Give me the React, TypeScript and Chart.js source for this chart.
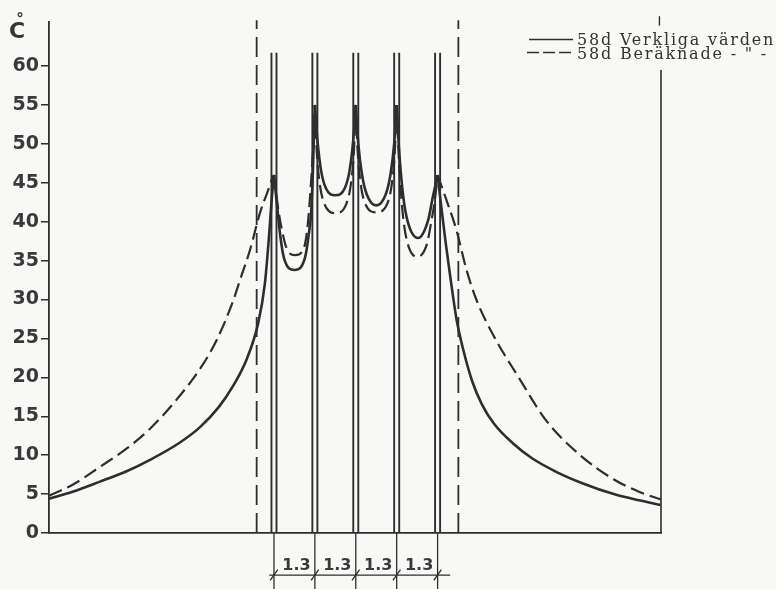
import React, { useEffect, useRef } from "react";
import { Chart, registerables } from "chart.js";

Chart.register(...registerables);

// ---------- data ----------
const yTickValues = [0, 5, 10, 15, 20, 25, 30, 35, 40, 45, 50, 55, 60];
const yMax = 65.66;
const xMin = -7.15;
const xMax = 12.3;

// wall positions (m), spacing 1.3 m
const wallPositions = [0, 1.3, 2.6, 3.9, 5.2];
const wallHalfThickness = 0.08;
const wallTop = 61.7;
const spacingLabels = ["1.3", "1.3", "1.3", "1.3"];
const boundaryLines = [-0.55, 5.86];

// 58d Verkliga värden (measured)
const measuredX = [
  -7.15, -6.4, -5.53, -4.7, -3.94, -3.0, -2.35, -1.75, -1.3, -0.87, -0.5, -0.29, -0.16, -0.06, 0,
  0.1, 0.2, 0.32, 0.65, 0.98, 1.1, 1.2, 1.3,
  1.38, 1.5, 1.65, 1.95, 2.25, 2.4, 2.52, 2.6,
  2.68, 2.8, 2.95, 3.25, 3.55, 3.7, 3.82, 3.9,
  3.98, 4.1, 4.25, 4.58, 4.9, 5.05, 5.2,
  5.3, 5.45, 5.6, 5.8, 6.0, 6.3, 6.6, 7.0, 7.6, 8.2, 9.0, 9.8, 10.8, 11.6, 12.3,
];
const measuredY = [
  4.4, 5.3, 6.6, 7.9, 9.4, 11.6, 13.6, 16.2, 18.9, 22.3, 27.0, 32.0, 38, 43.5, 46,
  42, 38.2, 35.3, 33.8, 35.3, 38.2, 42.5, 55,
  50.5, 46.5, 44.3, 43.4, 44.3, 46.5, 50.5, 55,
  50, 46, 43.5, 42.1, 43.5, 46, 50, 55,
  49, 43.5, 40, 37.9, 40.2, 43.2, 46,
  42.5, 37.5, 33, 27.5, 23.8, 19.5, 16.6, 14.0, 11.5, 9.6, 7.8, 6.4, 5.0, 4.2, 3.6,
];

// 58d Beräknade (calculated)
const calculatedX = [
  -7.15, -6.4, -5.53, -4.7, -3.94, -3.0, -2.3, -1.82, -1.3, -1.08, -0.76, -0.44, -0.19, -0.08, 0,
  0.14, 0.24, 0.4, 0.67, 0.95, 1.07, 1.16, 1.23, 1.3,
  1.36, 1.45, 1.6, 1.95, 2.3, 2.45, 2.54, 2.6,
  2.66, 2.75, 2.9, 3.25, 3.6, 3.75, 3.84, 3.9,
  3.97, 4.07, 4.2, 4.55, 4.85, 5.0, 5.12, 5.2,
  5.48, 5.8, 6.12, 6.43, 7.0, 7.79, 8.66, 9.73, 10.79, 11.6, 12.3,
];
const calculatedY = [
  4.8, 6.2, 8.5, 10.8, 13.4, 17.6, 21.4, 24.8, 29.8, 32.5, 36.4, 41.2, 44.0, 45.3, 46,
  41.5, 39.2, 36.6, 35.7, 36.6, 39.5, 44, 48.5, 55,
  49, 45, 42.3, 41.1, 42.3, 45, 49, 55,
  49, 45, 42.3, 41.2, 42.3, 45, 49, 55,
  48, 42, 38, 35.5, 37, 40, 43, 46,
  42.8, 38.9, 33.8, 30, 25.2, 19.9, 14.4, 10.0, 6.9, 5.3, 4.3,
];

const legendLabels = ["58d Verkliga värden", "58d Beräknade - \" -"];

// ---------- helpers ----------
const INK = "#2e2e2e";

function splitAtWalls(xs: number[], ys: number[]) {
  const segments: { x: number; y: number }[][] = [];
  let cur: { x: number; y: number }[] = [];
  xs.forEach((x, i) => {
    const p = { x, y: ys[i] };
    cur.push(p);
    if (wallPositions.includes(x) && cur.length > 1) {
      segments.push(cur);
      cur = [p];
    }
  });
  if (cur.length > 1) segments.push(cur);
  return segments;
}

function lineDs(data: { x: number; y: number }[], width: number, dash: number[] = [], smooth = false) {
  return {
    type: "line" as const,
    data,
    borderColor: INK,
    borderWidth: width,
    borderDash: dash,
    pointRadius: 0,
    fill: false,
    clip: false as any,
    cubicInterpolationMode: smooth ? ("monotone" as const) : ("default" as const),
    tension: 0,
  };
}

const textPlugin = {
  id: "textPlugin",
  afterDraw(chart: any) {
    const ctx = chart.ctx as CanvasRenderingContext2D;
    const xs = chart.scales.x;
    const ys = chart.scales.y;
    ctx.save();
    ctx.fillStyle = "#333";
    // axis unit
    ctx.font = "bold 22px 'DejaVu Sans'";
    ctx.textAlign = "left";
    ctx.textBaseline = "alphabetic";
    ctx.fillText("C", 9, 38);
    ctx.font = "bold 15px 'DejaVu Sans'";
    ctx.textAlign = "center";
    ctx.fillText("°", 20, 24);

    // spacing labels
    ctx.font = "bold 16px 'DejaVu Sans'";
    ctx.fillStyle = "#3a3a3a";
    ctx.textAlign = "center";
    spacingLabels.forEach((lab, i) => {
      const mid = (wallPositions[i] + wallPositions[i + 1]) / 2;
      ctx.fillText(lab, xs.getPixelForValue(mid) + 2, ys.getPixelForValue(-4.8));
    });

    // legend
    ctx.strokeStyle = INK;
    ctx.lineWidth = 1.6;
    ctx.beginPath();
    ctx.moveTo(529, 39.5);
    ctx.lineTo(573, 39.5);
    ctx.stroke();
    ctx.setLineDash([12, 4]);
    ctx.beginPath();
    ctx.moveTo(527, 52.5);
    ctx.lineTo(575, 52.5);
    ctx.stroke();
    ctx.setLineDash([]);
    ctx.font = "16px 'DejaVu Serif'";
    (ctx as any).letterSpacing = "1.8px";
    ctx.textAlign = "left";
    ctx.fillStyle = "#333";
    ctx.fillText(legendLabels[0], 577, 45);
    ctx.fillText(legendLabels[1], 577, 59);
    ctx.restore();
  },
};

export default function App() {
  const ref = useRef<HTMLCanvasElement | null>(null);
  useEffect(() => {
    if (!ref.current) return;
    const datasets: any[] = [];
    splitAtWalls(measuredX, measuredY).forEach((seg) => datasets.push(lineDs(seg, 2.6, [], true)));
    splitAtWalls(calculatedX, calculatedY).forEach((seg) => datasets.push(lineDs(seg, 2.2, [14, 6], true)));
    wallPositions.forEach((w) => {
      [-wallHalfThickness, wallHalfThickness].forEach((d) => {
        datasets.push(lineDs([{ x: w + d, y: 0 }, { x: w + d, y: wallTop }], 1.9));
      });
      // extension line below the axis
      datasets.push(lineDs([{ x: w, y: 0 }, { x: w, y: -7.4 }], 1.3));
      // slash tick
      datasets.push(lineDs([{ x: w - 0.12, y: -6.1 }, { x: w + 0.12, y: -4.7 }], 1.3));
    });
    // dimension line
    datasets.push(lineDs([{ x: -0.15, y: -5.4 }, { x: 5.6, y: -5.4 }], 1.3));
    // dashed boundary lines
    boundaryLines.forEach((b) => {
      datasets.push(lineDs([{ x: b, y: 0 }, { x: b, y: 65.9 }], 1.8, [20, 8]));
    });
    // right border
    datasets.push(lineDs([{ x: xMax, y: 0 }, { x: xMax, y: 59.5 }], 1.6));
    datasets.push(lineDs([{ x: xMax - 0.05, y: 65.2 }, { x: xMax - 0.05, y: 66.4 }], 1.4));

    const chart = new Chart(ref.current, {
      type: "line",
      data: { datasets },
      options: {
        animation: false,
        responsive: true,
        maintainAspectRatio: false,
        layout: { padding: { top: 22, bottom: 56, left: 0, right: 115 } },
        plugins: { legend: { display: false }, tooltip: { enabled: false } },
        scales: {
          x: {
            type: "linear",
            min: xMin,
            max: xMax,
            ticks: { display: false },
            grid: { display: false, drawTicks: false },
            border: { display: true, color: INK, width: 1.8 },
            afterFit: (s: any) => {
              s.height = 0;
            },
          },
          y: {
            type: "linear",
            min: 0,
            max: yMax,
            afterBuildTicks: (s: any) => {
              s.ticks = yTickValues.map((v) => ({ value: v }));
            },
            ticks: {
              autoSkip: false,
              padding: 2,
              color: "#3a3a3a",
              font: { family: "'DejaVu Sans'", size: 19, weight: "bold" },
            },
            grid: { drawOnChartArea: false, drawTicks: true, tickLength: 8, color: INK, lineWidth: 1.5 },
            border: { display: true, color: INK, width: 1.8 },
            afterFit: (s: any) => {
              s.width = 49;
            },
          },
        },
      } as any,
      plugins: [textPlugin],
    });
    return () => chart.destroy();
  }, []);

  return (
    <div style={{ position: "fixed", left: 0, top: 0, width: 776, height: 589, background: "#f8f8f6" }}>
      <canvas ref={ref} />
    </div>
  );
}
